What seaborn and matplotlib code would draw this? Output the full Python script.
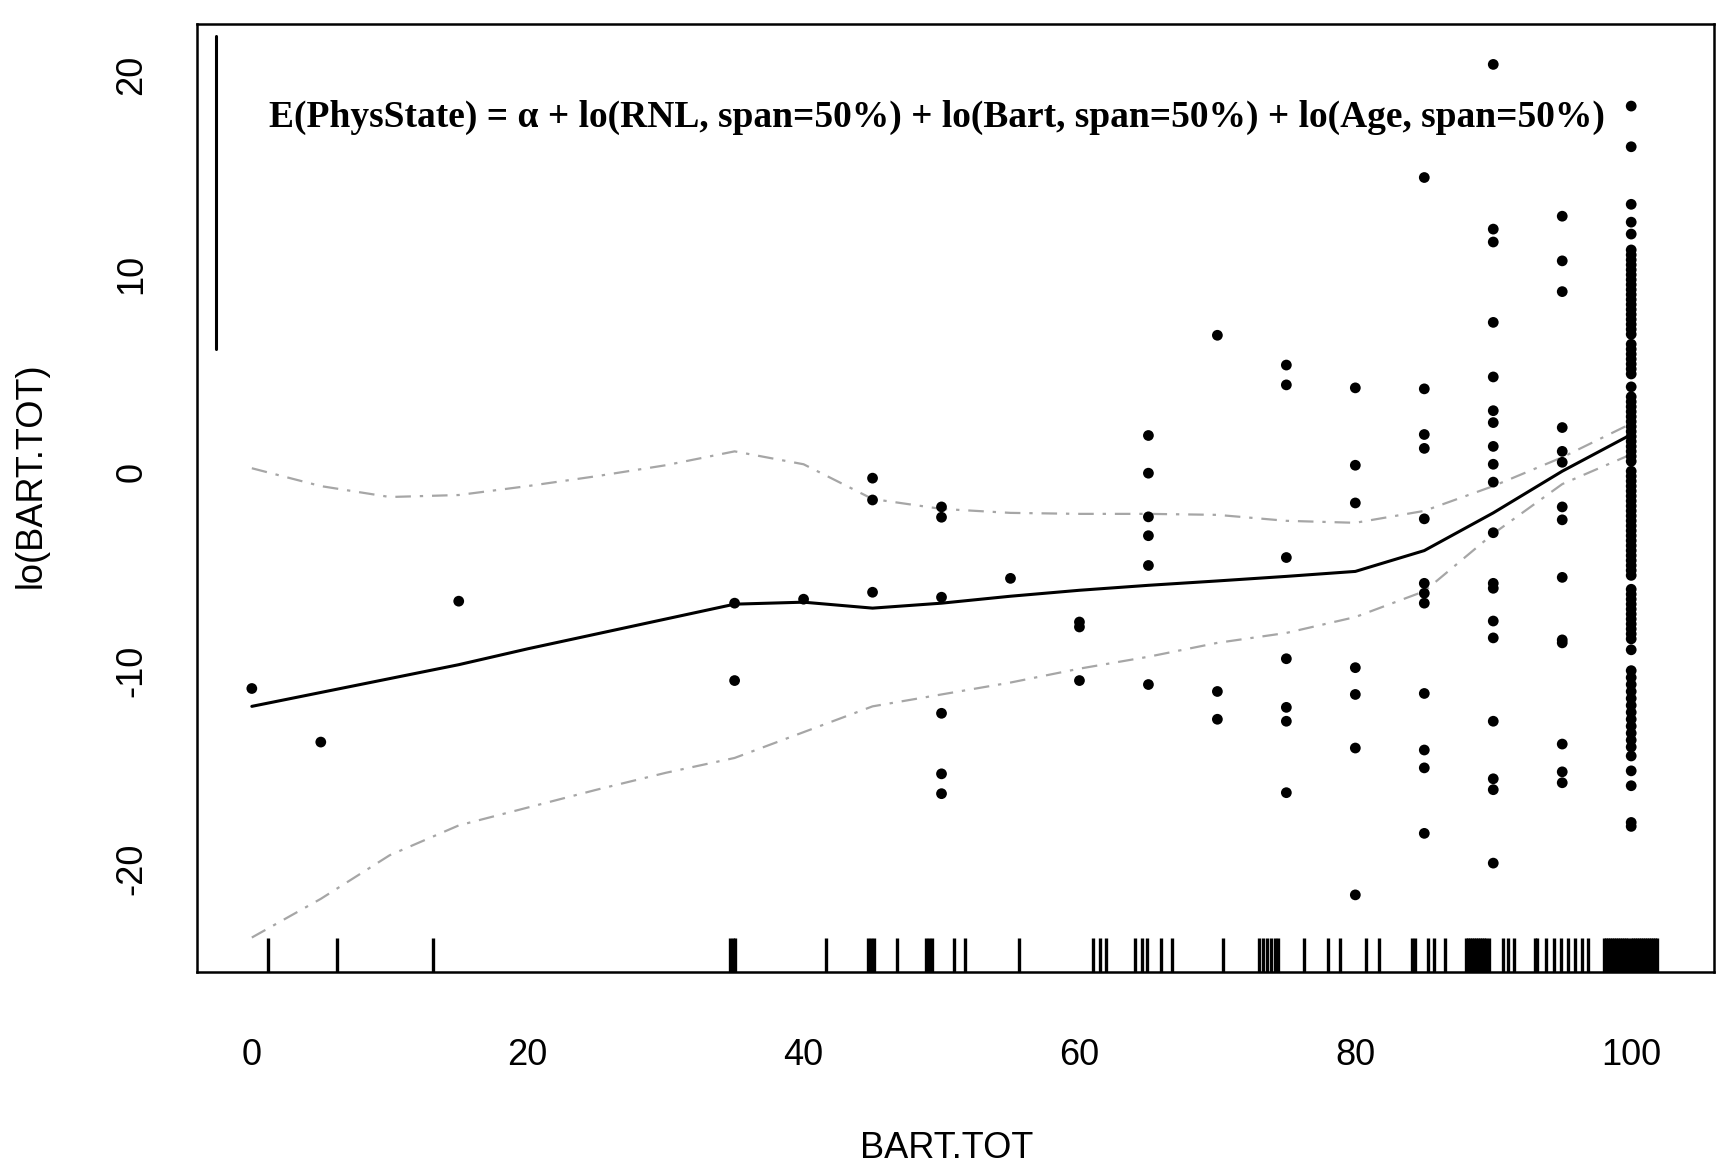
import matplotlib
matplotlib.use('Agg')
import matplotlib.pyplot as plt
import seaborn as sns
import numpy as np
import pandas as pd

# BART.TOT columns (Barthel index) and the partial residuals
col_x = [0, 5, 15, 35, 40, 45, 50, 55, 60, 65, 70, 75, 80, 85, 90, 95, 100]
col_y = [
    [-10.9],
    [-13.6],
    [-6.5],
    [-6.6, -10.5],
    [-6.4],
    [-0.3, -1.4, -6.05],
    [-1.75, -2.27, -6.3, -12.15, -15.2, -16.2],
    [-5.35],
    [-7.55, -7.8, -10.5],
    [1.85, -0.05, -2.25, -3.2, -4.7, -10.7],
    [6.9, -11.05, -12.45],
    [5.4, 4.4, -4.3, -9.4, -11.85, -12.55, -16.15],
    [4.25, 0.35, -1.55, -9.85, -11.2, -13.9, -21.3],
    [14.85, 4.2, 1.9, 1.2, -2.35, -5.6, -6.1, -6.6, -11.15, -14.0, -14.9, -18.2],
    [20.55, 12.25, 11.6, 7.55, 4.8, 3.1, 2.5, 1.3, 0.4, -0.5, -3.05, -5.6, -5.85,
     -7.5, -8.35, -12.55, -15.45, -16.0, -19.7],
    [12.9, 10.65, 9.1, 2.25, 1.05, 0.5, -1.75, -2.4, -5.3, -8.45, -8.6, -13.7,
     -15.1, -15.65],
    [18.45, 16.4, 13.5, 12.6, 12.0,
     11.2, 10.95, 10.7, 10.45, 10.2, 9.95, 9.7, 9.45, 9.2, 8.95, 8.7, 8.45, 8.2,
     7.95, 7.7, 7.45, 7.2, 6.95,
     6.45, 6.2, 5.95, 5.7, 5.45, 5.2, 4.95,
     4.3,
     3.8, 3.55, 3.3, 3.05, 2.8, 2.55, 2.3, 2.05, 1.8, 1.55, 1.3, 1.05, 0.8, 0.55,
     0.05, -0.2, -0.45, -0.7, -0.95, -1.2, -1.45, -1.7, -1.95, -2.2, -2.45, -2.7,
     -2.95, -3.2, -3.45, -3.7, -3.95, -4.2, -4.45, -4.7, -4.95, -5.2,
     -5.9, -6.15, -6.4, -6.65, -6.9, -7.15, -7.4, -7.65, -7.9, -8.15, -8.4,
     -8.95,
     -10.0, -10.35, -10.7, -11.05, -11.4, -11.75, -12.1, -12.45, -12.8, -13.15,
     -13.5, -13.85,
     -14.3, -15.05, -15.8, -17.65, -17.85],
]

# loess fit and its pointwise bands
smooth_x = [0, 5, 10, 15, 20, 25, 30, 35, 40, 45, 50, 55, 60, 65, 70, 75, 80, 85, 90, 95, 100]
smooth_y = [-11.8, -11.1, -10.4, -9.7, -8.9, -8.15, -7.4, -6.65, -6.55, -6.85, -6.6,
            -6.25, -5.95, -5.7, -5.48, -5.25, -5.0, -3.95, -2.05, 0.05, 1.9]
upper_y = [0.2, -0.7, -1.25, -1.15, -0.7, -0.2, 0.35, 1.05, 0.4, -1.35, -1.85,
           -2.05, -2.1, -2.1, -2.15, -2.45, -2.55, -1.95, -0.7, 0.75, 2.45]
lower_y = [-23.45, -21.5, -19.3, -17.8, -16.9, -16.0, -15.15, -14.4, -13.1, -11.8, -11.2,
           -10.6, -9.9, -9.3, -8.6, -8.1, -7.3, -6.0, -3.1, -0.6, 0.9]

# jittered rug along the bottom
rug_x = [1.2, 6.2, 13.1, 34.7, 34.9, 35.0, 41.6, 44.7, 44.9, 45.1, 46.8,
         48.9, 49.1, 49.3, 50.9, 51.7, 55.6, 61.0, 61.5, 61.9, 64.0, 64.5, 64.9,
         65.9, 66.7, 70.4, 73.0, 73.3, 73.6, 73.9, 74.2, 74.4, 76.3, 78.0, 78.9,
         80.8, 81.7, 84.1, 84.3, 85.3, 85.7, 86.5,
         88.0, 88.15, 88.3, 88.45, 88.6, 88.75, 88.9, 89.05, 89.2, 89.35, 89.5, 89.7,
         90.7, 91.1, 91.5, 93.0, 93.2, 93.8, 94.4, 94.9, 95.4, 95.9, 96.4, 96.9,
         98.0, 98.15, 98.3, 98.45, 98.6, 98.75, 98.9, 99.05, 99.2, 99.35, 99.5,
         99.65, 99.8, 99.95, 100.1, 100.25, 100.4, 100.55, 100.7, 100.85, 101.0,
         101.15, 101.3, 101.45, 101.6, 101.75, 101.9]

# stray stroke at the top left of the scan
edge_x = [-2.6, -2.6]
edge_y = [22.0, 6.2]

x_ticks = [0, 20, 40, 60, 80, 100]
y_ticks = [-20, -10, 0, 10, 20]
title = 'E(PhysState) = \u03b1 + lo(RNL, span=50%) + lo(Bart, span=50%) + lo(Age, span=50%)'

pts = pd.DataFrame({
    'BART.TOT': [x for x, ys in zip(col_x, col_y) for _ in ys],
    'lo': [y for ys in col_y for y in ys],
})

sns.set_style('white')
plt.rcParams['font.family'] = ['Liberation Sans', 'DejaVu Sans']
plt.rcParams['text.color'] = 'black'
plt.rcParams['axes.labelcolor'] = 'black'

fig = plt.figure(figsize=(17.25, 11.63), dpi=100)
ax = fig.add_axes([0.114, 0.164, 0.8796, 0.8156])

sns.scatterplot(data=pts, x='BART.TOT', y='lo', color='black', s=60,
                edgecolor='none', ax=ax, zorder=3)
sns.lineplot(x=smooth_x, y=smooth_y, color='black', lw=2.2, ax=ax)
band = (0, (7, 4, 1.5, 4))
sns.lineplot(x=smooth_x, y=upper_y, color='#a6a6a6', lw=1.6, ls=band, ax=ax)
sns.lineplot(x=smooth_x, y=lower_y, color='#a6a6a6', lw=1.6, ls=band, ax=ax)
sns.rugplot(x=rug_x, height=0.036, color='black', linewidth=2.4, ax=ax)
ax.plot(edge_x, edge_y, color='black', lw=2.2)

ax.set_xlim(-4, 106)
ax.set_ylim(-25.2, 22.6)
ax.set_xticks(x_ticks)
ax.set_xticklabels([str(t) for t in x_ticks])
ax.set_yticks(y_ticks)
ax.set_yticklabels([str(t) for t in y_ticks], rotation=90, va='center')
ax.tick_params(axis='both', direction='out', length=12, width=1.6,
               labelsize=26, color='black', labelcolor='black')
ax.tick_params(axis='x', pad=35)
ax.tick_params(axis='y', pad=22)
for sp in ax.spines.values():
    sp.set_visible(True)
    sp.set_linewidth(1.8)
    sp.set_color('black')

ax.set_xlabel('BART.TOT', fontsize=26)
ax.set_ylabel('lo(BART.TOT)', fontsize=26)
ax.xaxis.set_label_coords(0.494, -0.167)
ax.yaxis.set_label_coords(-0.0976, 0.524)

ax.text(49.7, 17.9, title, ha='center', va='center', fontsize=27, color='black',
        fontweight='bold', family=['Liberation Serif', 'DejaVu Serif'])

fig.savefig('out.png', dpi=100)
